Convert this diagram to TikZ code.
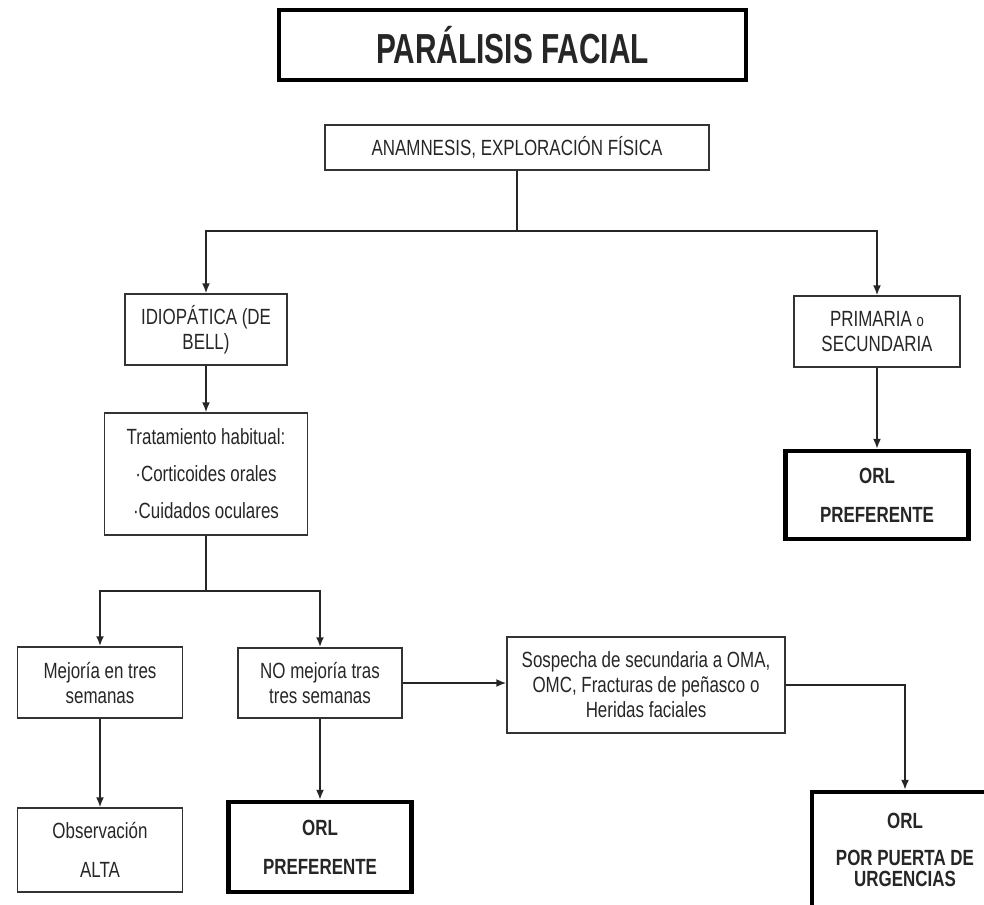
\documentclass[tikz,border=0pt]{standalone}
\usepackage{fontspec}
\setmainfont[FakeStretch=0.77]{Liberation Sans}
\newfontfamily\titlefont[FakeStretch=0.71]{Liberation Sans}
\usetikzlibrary{arrows.meta}

\begin{document}
\begin{tikzpicture}[x=1pt, y=-1pt, >={Latex[length=10pt,width=8pt]},
    box/.style={draw=black!80, line width=1.5pt, align=center, inner sep=0pt,
      text=black!85, font=\fontsize{22}{25}\selectfont},
    bigbox/.style={box, draw=black, line width=4.5pt, font=\fontsize{22}{25}\selectfont\bfseries},
    link/.style={draw=black!85, line width=1.6pt}]
    \useasboundingbox (0,0) rectangle (984,904);

    \node[box, draw=black, line width=4pt, minimum width=467pt, minimum height=70pt,
      font=\titlefont\fontsize{42}{48}\selectfont\bfseries] (title) at (512.5,45) {PARÁLISIS FACIAL};
    \node[box, minimum width=384pt, minimum height=45pt] (anam) at (517,147.5) {ANAMNESIS, EXPLORACIÓN FÍSICA};

    % left branch
    \node[box, minimum width=162pt, minimum height=71pt] (idio) at (206,329.5) {IDIOPÁTICA (DE\\BELL)};
    \node[box, minimum width=203pt, minimum height=122pt] (trat) at (206,474) {Tratamiento habitual:\\[12pt]·Corticoides orales\\[12pt]·Cuidados oculares};
    \node[box, minimum width=165pt, minimum height=71pt] (mej) at (100,682.5) {Mejoría en tres\\semanas};
    \node[box, minimum width=164pt, minimum height=70pt] (nomej) at (320,683) {NO mejoría tras\\tres semanas};
    \node[box, minimum width=165pt, minimum height=84pt] (obs) at (100,850) {Observación\\[14pt]ALTA};
    \node[bigbox, minimum width=183pt, minimum height=90pt] (orlb) at (320,847) {ORL\\[14pt]PREFERENTE};
    \node[box, minimum width=278pt, minimum height=96pt] (sosp) at (646,685) {Sospecha de secundaria a OMA,\\OMC, Fracturas de peñasco o\\Heridas faciales};
    \node[bigbox, minimum width=186pt, minimum height=116pt, font=\fontsize{22}{21}\selectfont\bfseries] (orlu) at (905,850) {ORL\\[16pt]POR PUERTA DE\\URGENCIAS};

    % right branch
    \node[box, minimum width=166pt, minimum height=71pt] (prim) at (877,331.5) {PRIMARIA {\fontsize{17}{20}\selectfont o}\\SECUNDARIA};
    \node[bigbox, minimum width=183pt, minimum height=88pt] (orla) at (877,495) {ORL\\[14pt]PREFERENTE};

    \coordinate (split) at (517,231);
    \coordinate (splitb) at (206,591);

    \draw[link] (anam.south) -- (split);
    \draw[link, ->] (split) -| (idio.north);
    \draw[link, ->] (split) -| (prim.north);
    \draw[link, ->] (idio.south) -- (trat.north);
    \draw[link, ->] (prim.south) -- (orla.north);
    \draw[link, line width=2.4pt] (trat.south) -- (splitb);
    \draw[link, line width=2pt, ->] (splitb) -| (mej.north);
    \draw[link, line width=2.4pt, ->] (splitb) -| (nomej.north);
    \draw[link, ->] (mej.south) -- (obs.north);
    \draw[link, ->] (nomej.south) -- (orlb.north);
    \draw[link, ->] (nomej.east) -- (nomej.east -| sosp.west);
    \draw[link, ->] (sosp.east) -| (orlu.north);
\end{tikzpicture}
\end{document}
